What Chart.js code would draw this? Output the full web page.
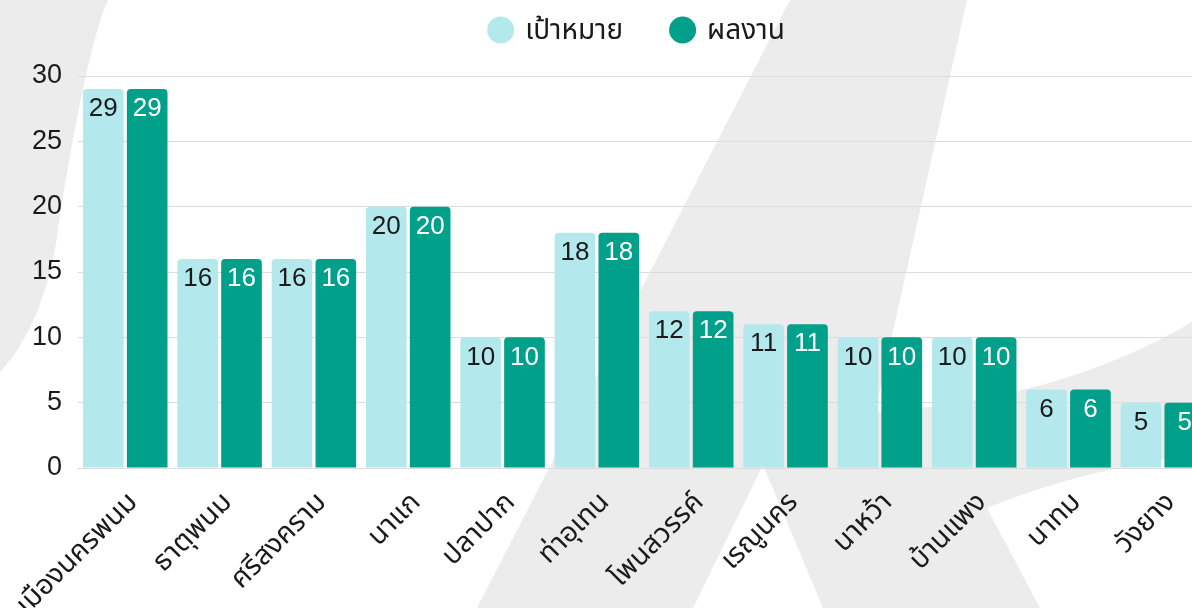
<!DOCTYPE html>
<html>
<head>
<meta charset="utf-8">
<script src="https://cdn.jsdelivr.net/npm/chart.js@4.4.1/dist/chart.umd.min.js"></script>
<style>
  html, body { margin: 0; padding: 0; background: #fff; overflow: hidden; width: 1192px; height: 608px; }
  #wrap { width: 1272px; height: 608px; }
</style>
</head>
<body>
<div id="wrap"><canvas id="c" width="1272" height="608"></canvas></div>
<script>
// data
const districts = ['เมืองนครพนม', 'ธาตุพนม', 'ศรีสงคราม', 'นาแก', 'ปลาปาก', 'ท่าอุเทน',
  'โพนสวรรค์', 'เรณูนคร', 'นาหว้า', 'บ้านแพง', 'นาทม', 'วังยาง'];
const targetValues = [29, 16, 16, 20, 10, 18, 12, 11, 10, 10, 6, 5];
const resultValues = [29, 16, 16, 20, 10, 18, 12, 11, 10, 10, 6, 5];
const seriesNames = ['เป้าหมาย', 'ผลงาน'];
const yTicks = [0, 5, 10, 15, 20, 25, 30];

const FONT = "'Liberation Sans', 'Noto Sans Thai', 'Noto Sans', sans-serif";
const LIGHT = '#b3e9ec';
const DARK = '#00a08a';

// faint logo watermark behind the chart
const watermark = {
  id: 'watermark',
  beforeDraw(chart) {
    const ctx = chart.ctx;
    ctx.save();
    ctx.fillStyle = '#ececec';
    ctx.beginPath();
    ctx.moveTo(0, 0);
    ctx.lineTo(108, 0);
    ctx.bezierCurveTo(90, 40, 70, 150, 58, 230);
    ctx.bezierCurveTo(50, 290, 30, 340, 0, 372);
    ctx.closePath();
    ctx.fill();

    ctx.beginPath();
    ctx.moveTo(790, 0);
    ctx.lineTo(967, 0);
    ctx.lineTo(875, 412);
    ctx.quadraticCurveTo(1060, 400, 1192, 322);
    ctx.lineTo(1192, 455);
    ctx.quadraticCurveTo(1080, 470, 987, 508);
    ctx.lineTo(1040, 608);
    ctx.lineTo(823, 608);
    ctx.lineTo(763, 465);
    ctx.lineTo(693, 608);
    ctx.lineTo(477, 608);
    ctx.closePath();
    ctx.fill();
    ctx.restore();
  }
};

// numbers near the top inside each bar
const barValues = {
  id: 'barValues',
  afterDatasetsDraw(chart) {
    const ctx = chart.ctx;
    ctx.save();
    ctx.font = '26px ' + FONT;
    ctx.textAlign = 'center';
    ctx.textBaseline = 'middle';
    chart.data.datasets.forEach((ds, i) => {
      const meta = chart.getDatasetMeta(i);
      ctx.fillStyle = i === 0 ? '#1a1a1a' : '#ffffff';
      meta.data.forEach((bar, j) => {
        ctx.fillText(String(ds.data[j]), bar.x, bar.y + 20);
      });
    });
    ctx.restore();
  }
};

// legend with round markers, centred over the canvas
const roundLegend = {
  id: 'roundLegend',
  afterDraw(chart) {
    const ctx = chart.ctx;
    const r = 13.5, gapText = 11, gapItem = 46, y = 30;
    ctx.save();
    ctx.font = '28px ' + FONT;
    ctx.textBaseline = 'middle';
    ctx.textAlign = 'left';
    const items = chart.data.datasets.map(ds => ({
      text: ds.label, color: ds.backgroundColor, w: ctx.measureText(ds.label).width
    }));
    let total = 0;
    items.forEach((it, i) => { total += 2 * r + gapText + it.w + (i ? gapItem : 0); });
    let x = chart.width / 2 - total / 2;
    items.forEach(it => {
      ctx.fillStyle = it.color;
      ctx.beginPath();
      ctx.arc(x + r, y, r, 0, Math.PI * 2);
      ctx.fill();
      ctx.fillStyle = '#1a1a1a';
      ctx.fillText(it.text, x + 2 * r + gapText, y + 1);
      x += 2 * r + gapText + it.w + gapItem;
    });
    ctx.restore();
  }
};

new Chart(document.getElementById('c'), {
  type: 'bar',
  data: {
    labels: districts,
    datasets: [
      { label: seriesNames[0], data: targetValues, backgroundColor: LIGHT, borderRadius: 4, borderSkipped: 'start' },
      { label: seriesNames[1], data: resultValues, backgroundColor: DARK, borderRadius: 4, borderSkipped: 'start' }
    ]
  },
  options: {
    responsive: false,
    animation: false,
    layout: { padding: { top: 76, right: 62, bottom: 0, left: 0 } },
    datasets: { bar: { categoryPercentage: 0.93, barPercentage: 0.927 } },
    plugins: {
      legend: { display: false },
      tooltip: { enabled: false }
    },
    scales: {
      x: {
        grid: { display: false },
        border: { display: false },
        ticks: {
          color: '#1a1a1a',
          font: { family: FONT, size: 28 },
          minRotation: 45,
          maxRotation: 45,
          padding: 10,
          labelOffset: 8
        },
        afterFit(scale) { scale.height = 140; }
      },
      y: {
        min: yTicks[0],
        max: yTicks[yTicks.length - 1],
        grid: { color: '#dcdcdc', drawTicks: false },
        border: { display: false },
        ticks: {
          stepSize: yTicks[1] - yTicks[0],
          color: '#1a1a1a',
          font: { family: FONT, size: 27 },
          padding: 16
        },
        afterFit(scale) { scale.width = 78; }
      }
    }
  },
  plugins: [watermark, barValues, roundLegend]
});
</script>
</body>
</html>
